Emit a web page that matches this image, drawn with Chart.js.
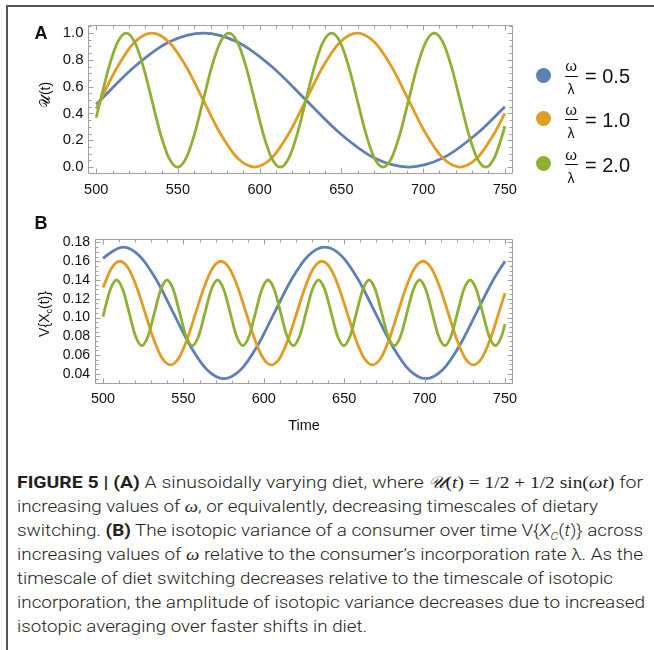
<!DOCTYPE html>
<html>
<head>
<meta charset="utf-8">
<script src="https://cdn.jsdelivr.net/npm/chart.js@4/dist/chart.umd.min.js"></script>
<style>
body{margin:0;background:#fff}
#page{position:relative;width:654px;height:650px;overflow:hidden;background:#fff;font-family:'Liberation Sans',Arial,sans-serif;color:#111}
.abs{position:absolute;line-height:1;white-space:nowrap}
.c{transform:translate(-50%,-50%)}
.rot{transform:translate(-50%,-50%) rotate(-90deg)}
.cap{position:absolute;left:17px;white-space:nowrap;font-family:'Roboto','Liberation Sans',sans-serif;font-weight:300;font-size:17px;line-height:24px;color:#231f20;transform-origin:0 50%}
.cap b{font-weight:700}
.m{font-family:'Liberation Serif','DejaVu Serif',serif;font-weight:400}
canvas{position:absolute;left:0}
</style>
</head>
<body>
<div id="page">
  <div class="abs" style="left:7px;top:5px;width:647px;height:2px;background:#555"></div>
  <div class="abs" style="left:6px;top:5px;width:2px;height:645px;background:#555"></div>
  <canvas id="cA" width="540" height="200" style="top:0"></canvas>
  <canvas id="cB" width="540" height="250" style="top:200px"></canvas>
  <div class="abs c" style="left:41px;top:32.5px;font-size:18px;font-weight:bold">A</div>
  <div class="abs c" style="left:41px;top:222.5px;font-size:18px;font-weight:bold">B</div>
  <div class="abs rot" style="left:45px;top:95px;font-size:14px">𝒰(t)</div>
  <div class="abs rot" style="left:44px;top:314px;font-size:14px">V{X<span style="font-size:9px;position:relative;top:3px">c</span>(t)}</div>
  <div id="legend"></div>
  <div id="caption"></div>
</div>
<script>
// ---------- tick labels ----------
const xTickValues = [500, 550, 600, 650, 700, 750];
const yTickValuesA = [0, 0.2, 0.4, 0.6, 0.8, 1.0];
const yTickValuesB = [0.04, 0.06, 0.08, 0.10, 0.12, 0.14, 0.16, 0.18];

// ---------- legend ----------
const legendRatios = ['0.5', '1.0', '2.0'];
const seriesColors = ['#5E81B5', '#E19C24', '#8FB032'];

// ---------- panel A : diet U(t) ----------
const tA_blue = [500, 502.65, 523.60, 544.54, 565.49, 586.43, 607.38, 628.32, 649.26, 670.21, 691.15, 712.09, 733.04, 750];
const uA_blue = [0.467, 0.5, 0.75, 0.933, 1, 0.933, 0.75, 0.5, 0.25, 0.067, 0, 0.067, 0.25, 0.45];

const tA_orange = [500, 502.65, 513.13, 523.60, 534.07, 544.54, 555.01, 565.49, 575.96, 586.43, 596.90, 607.38, 617.85,
  628.32, 638.79, 649.26, 659.73, 670.21, 680.68, 691.15, 701.62, 712.09, 722.57, 733.04, 743.51, 750];
const uA_orange = [0.434, 0.5, 0.75, 0.933, 1, 0.933, 0.75, 0.5, 0.25, 0.067, 0, 0.067, 0.25,
  0.5, 0.75, 0.933, 1, 0.933, 0.75, 0.5, 0.25, 0.067, 0, 0.067, 0.25, 0.40];

const tA_green = [500,
  502.65, 507.89, 513.12, 518.36, 523.59, 528.83, 534.07, 539.30, 544.54, 549.78, 555.01, 560.25,
  565.49, 570.72, 575.96, 581.19, 586.43, 591.67, 596.90, 602.14, 607.38, 612.61, 617.85, 623.08,
  628.32, 633.56, 638.79, 644.03, 649.27, 654.50, 659.74, 664.97, 670.21, 675.45, 680.68, 685.92,
  691.15, 696.39, 701.63, 706.86, 712.10, 717.33, 722.57, 727.81, 733.04, 738.28, 743.52, 748.75,
  750];
const uA_green = [0.369,
  0.5, 0.75, 0.933, 1, 0.933, 0.75, 0.5, 0.25, 0.067, 0, 0.067, 0.25,
  0.5, 0.75, 0.933, 1, 0.933, 0.75, 0.5, 0.25, 0.067, 0, 0.067, 0.25,
  0.5, 0.75, 0.933, 1, 0.933, 0.75, 0.5, 0.25, 0.067, 0, 0.067, 0.25,
  0.5, 0.75, 0.933, 1, 0.933, 0.75, 0.5, 0.25, 0.067, 0, 0.067, 0.25,
  0.306];

// ---------- panel B : consumer variance V{Xc(t)} ----------
const tB_blue = [500, 501.83, 512.30, 522.77, 533.24, 543.72, 554.19, 564.66, 575.13, 585.60, 596.07, 606.55, 617.02,
  627.49, 637.96, 648.43, 658.90, 669.38, 679.85, 690.32, 700.79, 711.26, 721.73, 732.21, 742.68, 750];
const vB_blue = [0.163, 0.1656, 0.175, 0.1656, 0.140, 0.105, 0.070, 0.0444, 0.035, 0.0444, 0.070, 0.105, 0.140,
  0.1656, 0.175, 0.1656, 0.140, 0.105, 0.070, 0.0444, 0.035, 0.0444, 0.070, 0.105, 0.140, 0.160];

const tB_orange = [500,
  505.26, 510.50, 515.74, 520.97, 526.21, 531.44, 536.68, 541.92, 547.15, 552.39, 557.62, 562.86,
  568.10, 573.33, 578.57, 583.80, 589.04, 594.28, 599.51, 604.75, 609.98, 615.22, 620.46, 625.69,
  630.93, 636.16, 641.40, 646.64, 651.87, 657.11, 662.34, 667.58, 672.81, 678.05, 683.29, 688.52,
  693.76, 698.99, 704.23, 709.47, 714.70, 719.94, 725.17, 730.41, 735.65, 740.88, 746.12,
  750];
const vB_orange = [0.132,
  0.1526, 0.160, 0.1526, 0.1324, 0.1048, 0.0771, 0.0569, 0.0495, 0.0569, 0.0771, 0.1048, 0.1324,
  0.1526, 0.160, 0.1526, 0.1324, 0.1048, 0.0771, 0.0569, 0.0495, 0.0569, 0.0771, 0.1048, 0.1324,
  0.1526, 0.160, 0.1526, 0.1324, 0.1048, 0.0771, 0.0569, 0.0495, 0.0569, 0.0771, 0.1048, 0.1324,
  0.1526, 0.160, 0.1526, 0.1324, 0.1048, 0.0771, 0.0569, 0.0495, 0.0569, 0.0771, 0.1048,
  0.126];

const tB_green = [500,
  500.55, 504.47, 508.40, 512.33, 516.25, 520.18, 524.11, 528.04,
  531.96, 535.89, 539.82, 543.74, 547.67, 551.60, 555.52, 559.45,
  563.38, 567.30, 571.23, 575.16, 579.09, 583.01, 586.94, 590.87,
  594.79, 598.72, 602.65, 606.57, 610.50, 614.43, 618.35, 622.28,
  626.21, 630.14, 634.06, 637.99, 641.92, 645.84, 649.77, 653.70,
  657.62, 661.55, 665.48, 669.40, 673.33, 677.26, 681.19, 685.11,
  689.04, 692.97, 696.89, 700.82, 704.75, 708.67, 712.60, 716.53,
  720.45, 724.38, 728.31, 732.24, 736.16, 740.09, 744.02, 747.94,
  750];
const vB_green = [0.101,
  0.105, 0.1297, 0.140, 0.1297, 0.105, 0.0803, 0.070, 0.0803,
  0.105, 0.1297, 0.140, 0.1297, 0.105, 0.0803, 0.070, 0.0803,
  0.105, 0.1297, 0.140, 0.1297, 0.105, 0.0803, 0.070, 0.0803,
  0.105, 0.1297, 0.140, 0.1297, 0.105, 0.0803, 0.070, 0.0803,
  0.105, 0.1297, 0.140, 0.1297, 0.105, 0.0803, 0.070, 0.0803,
  0.105, 0.1297, 0.140, 0.1297, 0.105, 0.0803, 0.070, 0.0803,
  0.105, 0.1297, 0.140, 0.1297, 0.105, 0.0803, 0.070, 0.0803,
  0.105, 0.1297, 0.140, 0.1297, 0.105, 0.0803, 0.070, 0.0803,
  0.093];

// ---------- caption ----------
const captionLines = [
  '<b>FIGURE 5 | (A)</b> A sinusoidally varying diet, where <span class="m"><i>𝒰</i>(<i>t</i>) = 1/2 + 1/2 sin(<i>ωt</i>)</span> for',
  'increasing values of <i class="m">ω</i>, or equivalently, decreasing timescales of dietary',
  'switching. <b>(B)</b> The isotopic variance of a consumer over time V{<i>X<sub style="font-size:11px">C</sub></i>(<i>t</i>)} across',
  'increasing values of <i class="m">ω</i> relative to the consumer’s incorporation rate λ. As the',
  'timescale of diet switching decreases relative to the timescale of isotopic',
  'incorporation, the amplitude of isotopic variance decreases due to increased',
  'isotopic averaging over faster shifts in diet.'
];
const captionWidths = [626, 581, 626, 626, 596, 628, 350];

Chart.defaults.font.family = "'Liberation Sans', Arial, sans-serif";
Chart.defaults.color = '#111';

const pts = (ts, vs) => ts.map((t, i) => ({x: t, y: vs[i]}));

const frameTicks = {
  id: 'frameTicks',
  afterDraw(chart, args, o) {
    const {ctx, chartArea: a, scales: {x, y}} = chart;
    ctx.save();
    ctx.strokeStyle = '#a0a0a0';
    ctx.lineWidth = 1;
    const L = Math.round(a.left) + 0.5, R = Math.round(a.right) - 0.5;
    const T = Math.round(a.top) + 0.5, B = Math.round(a.bottom) - 0.5;
    ctx.beginPath();
    ctx.rect(L, T, R - L, B - T);
    const xt = (v, len) => {
      const p = Math.round(x.getPixelForValue(v)) + 0.5;
      ctx.moveTo(p, B); ctx.lineTo(p, B - len);
      ctx.moveTo(p, T); ctx.lineTo(p, T + len);
    };
    const yt = (v, len) => {
      const p = Math.round(y.getPixelForValue(v)) + 0.5;
      if (p < T || p > B) return;
      ctx.moveTo(L, p); ctx.lineTo(L + len, p);
      ctx.moveTo(R, p); ctx.lineTo(R - len, p);
    };
    for (let v = 500; v <= 750; v += 10) xt(v, v % 50 === 0 ? 5 : 3);
    const n = Math.round((o.yMinorMax - o.yMinorMin) / o.yMinorStep);
    for (let i = 0; i <= n; i++) {
      const v = o.yMinorMin + i * o.yMinorStep;
      const major = o.yMajor.some(m => Math.abs(m - v) < 1e-9);
      yt(v, major ? 5 : 3);
    }
    ctx.stroke();
    ctx.restore();
  }
};

function makeChart(id, sets, yMin, yMax, yTicks, yFmt, layoutPad, yWidth, xHeight, yPad, xPad, xTitle, tickOpts, yFont) {
  return new Chart(document.getElementById(id), {
    type: 'line',
    data: {
      datasets: sets.map((s, i) => ({
        data: s,
        borderColor: seriesColors[i],
        borderWidth: 2.8,
        pointRadius: 0,
        fill: false,
        cubicInterpolationMode: 'monotone',
        borderJoinStyle: 'round',
        order: 3 - i
      }))
    },
    options: {
      responsive: false,
      animation: false,
      devicePixelRatio: 1,
      layout: {padding: layoutPad},
      plugins: {legend: {display: false}, tooltip: {enabled: false}, frameTicks: tickOpts},
      scales: {
        x: {
          type: 'linear', min: 495, max: 755,
          afterFit(s) { s.height = xHeight; },
          afterBuildTicks(s) { s.ticks = xTickValues.map(v => ({value: v})); },
          ticks: {font: {size: 14.5}, color: '#111', padding: xPad, maxRotation: 0, autoSkip: false, callback: v => String(v)},
          grid: {display: false, drawTicks: false},
          border: {display: false},
          title: xTitle
        },
        y: {
          type: 'linear', min: yMin, max: yMax,
          afterFit(s) { s.width = yWidth; },
          afterBuildTicks(s) { s.ticks = yTicks.map(v => ({value: v})); },
          ticks: {font: {size: yFont}, color: '#111', padding: yPad, autoSkip: false, callback: v => v.toFixed(yFmt)},
          grid: {display: false, drawTicks: false},
          border: {display: false}
        }
      }
    },
    plugins: [frameTicks]
  });
}

makeChart('cA',
  [pts(tA_blue, uA_blue), pts(tA_orange, uA_orange), pts(tA_green, uA_green)],
  -0.052, 1.06, yTickValuesA, 1,
  {left: 0, top: 25, right: 27, bottom: 0}, 88, 26, 4.5, 7, {display: false},
  {yMinorMin: -0.05, yMinorMax: 1.05, yMinorStep: 0.05, yMajor: yTickValuesA}, 15);

makeChart('cB',
  [pts(tB_blue, vB_blue), pts(tB_orange, vB_orange), pts(tB_green, vB_green)],
  0.0292, 0.1837, yTickValuesB, 2,
  {left: 0, top: 39, right: 27, bottom: 0}, 95, 66, 5, 6,
  {display: true, text: 'Time', font: {size: 14.5}, color: '#111', padding: {top: 0, bottom: 15.6}},
  {yMinorMin: 0.03, yMinorMax: 0.18, yMinorStep: 0.005, yMajor: yTickValuesB}, 14);

// legend (HTML)
const rowY = [75, 118.5, 163.5];
const lg = document.getElementById('legend');
legendRatios.forEach((r, i) => {
  const y = rowY[i];
  lg.insertAdjacentHTML('beforeend',
    `<div class="abs" style="left:535.5px;top:${y - 7.5}px;width:15px;height:15px;border-radius:50%;background:${seriesColors[i]}"></div>
     <div class="abs c" style="left:571px;top:${y - 10}px;font-size:15px">ω</div>
     <div class="abs" style="left:564.5px;top:${y + 0.5}px;width:13px;height:1px;background:#111"></div>
     <div class="abs c" style="left:571px;top:${y + 14}px;font-size:14px">λ</div>
     <div class="abs" style="left:585px;top:${y + 1}px;font-size:20px;transform:translateY(-50%)">= ${r}</div>`);
});

// caption (HTML)
const cap = document.getElementById('caption');
captionLines.forEach((html, i) => {
  cap.insertAdjacentHTML('beforeend', `<div class="cap" style="top:${470 + i * 24}px"><span>${html}</span></div>`);
});
cap.querySelectorAll('.cap').forEach((d, i) => {
  const w = d.querySelector('span').getBoundingClientRect().width;
  d.style.transform = `scaleX(${captionWidths[i] / w})`;
});
</script>
</body>
</html>
